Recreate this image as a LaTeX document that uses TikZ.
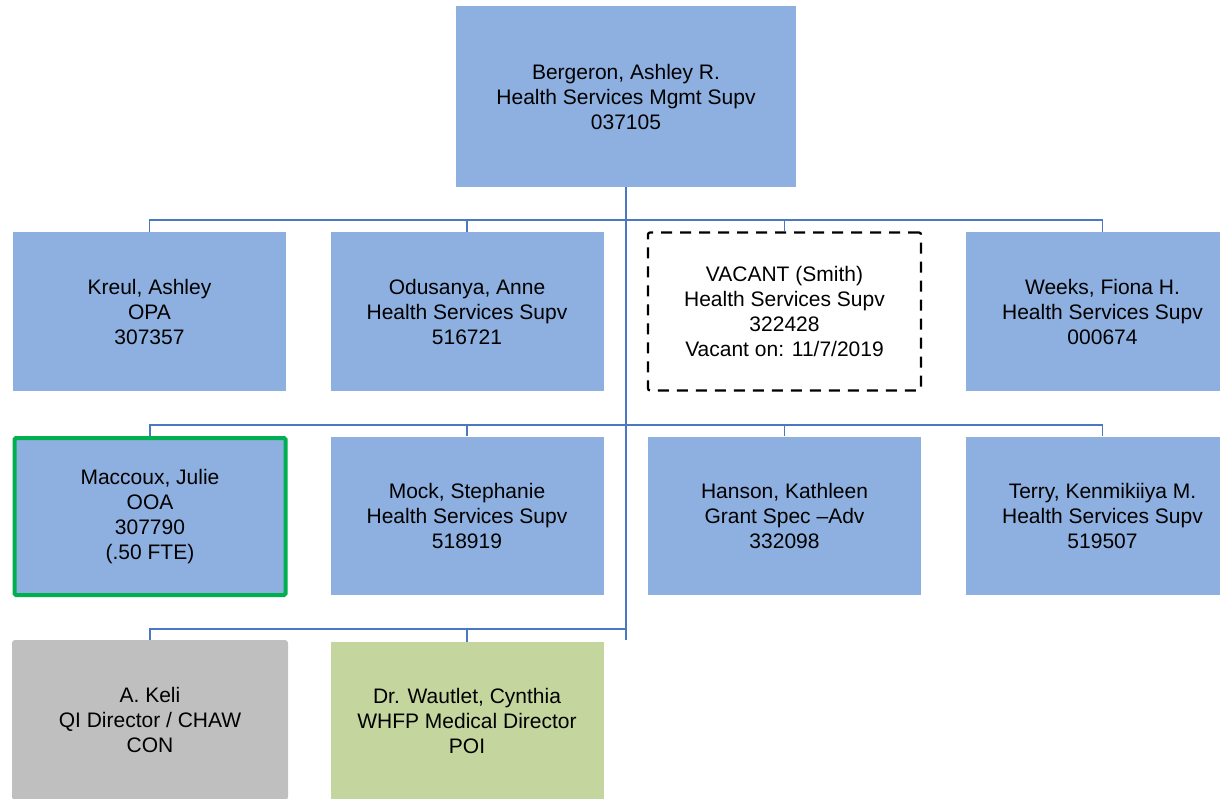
\documentclass[tikz,border=0pt]{standalone}
\usepackage{fontspec}
\setmainfont{Liberation Sans}
\definecolor{boxblue}{HTML}{8DB0E0}
\definecolor{linkblue}{HTML}{4A78C2}
\definecolor{boxgray}{HTML}{BFBFBF}
\definecolor{boxgreen}{HTML}{C4D69E}
\definecolor{frgreen}{HTML}{00B050}
\begin{document}
\begin{tikzpicture}[x=1pt,y=-1pt]
\tikzstyle{emp}=[rectangle,fill=boxblue,minimum width=273pt,minimum height=158pt,inner sep=0pt,align=center,font=\fontsize{21}{25}\selectfont]
\tikzstyle{link}=[draw=linkblue,line width=1.6pt]
\useasboundingbox (0,0) rectangle (1220,799);
\node[emp,minimum width=340pt,minimum height=181pt] (berg) at (626,96.5) {Bergeron, Ashley R.\\Health Services Mgmt Supv\\037105};
\node[emp] (kreul) at (149.5,311.5) {Kreul, Ashley\\OPA\\307357};
\node[emp] (odus) at (467,311.5) {Odusanya, Anne\\Health Services Supv\\516721};
\node[emp,fill=none,draw=black,line width=2.2pt,dash pattern=on 11pt off 8pt,rounded corners=2pt] (vac) at (784.5,311.5) {VACANT (Smith)\\Health Services Supv\\322428\\Vacant on: 11/7/2019};
\node[emp] (weeks) at (1102.5,311.5) {Weeks, Fiona H.\\Health Services Supv\\000674};
\node[emp,draw=frgreen,line width=4pt,rounded corners=1.5pt,minimum width=271pt,minimum height=157pt] (macc) at (150,516.5) {Maccoux, Julie\\OOA\\307790\\(.50 FTE)};
\node[emp] (mock) at (467,515.5) {Mock, Stephanie\\Health Services Supv\\518919};
\node[emp] (hans) at (784.5,515.5) {Hanson, Kathleen\\Grant Spec –Adv\\332098};
\node[emp] (terry) at (1102.5,515.5) {Terry, Kenmikiiya M.\\Health Services Supv\\519507};
\node[emp,fill=boxgray,rounded corners=3pt,minimum width=276pt,minimum height=160pt] (keli) at (150,720) {A. Keli\\QI Director / CHAW\\CON};
\node[emp,fill=boxgreen,minimum height=158pt] (waut) at (467,721) {Dr. Wautlet, Cynthia\\WHFP Medical Director\\POI};
\draw[link] (berg.south) -- ([yshift=11pt]berg.south |- keli.north);
\draw[link] (kreul.north) -- ++(0,12pt) -| (weeks.north);
\draw[link] (odus.north) -- ++(0,12pt);
\draw[link] (vac.north) -- ++(0,12pt);
\draw[link] (macc.north) -- ++(0,11pt) -| (terry.north);
\draw[link] (mock.north) -- ++(0,11pt);
\draw[link] (hans.north) -- ++(0,11pt);
\draw[link] (keli.north) -- ++(0,11pt) -| (berg.south |- keli.north);
\draw[link] (waut.north) -- ++(0,13pt);
\end{tikzpicture}
\end{document}
